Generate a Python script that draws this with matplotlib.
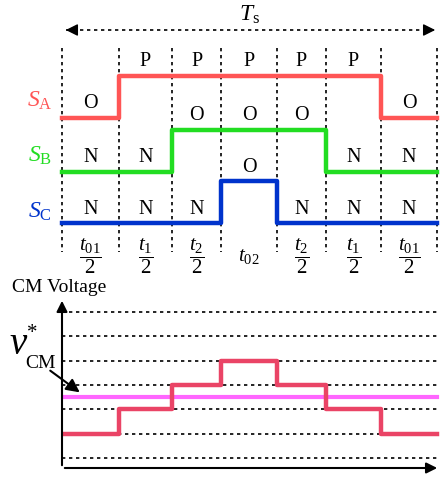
import matplotlib
matplotlib.use("Agg")
import matplotlib.pyplot as plt
import numpy as np

plt.rcParams['font.family'] = ['Liberation Serif', 'DejaVu Serif']
plt.rcParams['mathtext.fontset'] = 'custom'
plt.rcParams['mathtext.rm'] = 'Liberation Serif'
plt.rcParams['mathtext.it'] = 'Liberation Serif:italic'

# --- data ---
# segment durations over one switching period Ts (arbitrary time units)
durations = [57, 53, 49, 56, 49, 55, 56]
seg_labels = [r'$\dfrac{t_{01}}{2}$', r'$\dfrac{t_1}{2}$', r'$\dfrac{t_2}{2}$', r'$t_{02}$',
              r'$\dfrac{t_2}{2}$', r'$\dfrac{t_1}{2}$', r'$\dfrac{t_{01}}{2}$']
state_a = ['O', 'P', 'P', 'P', 'P', 'P', 'O']
state_b = ['N', 'N', 'O', 'O', 'O', 'N', 'N']
state_c = ['N', 'N', 'N', 'O', 'N', 'N', 'N']
cm_voltage = [2, 3, 4, 5, 4, 3, 2]
cm_reference = 3.5
grid_levels = [1, 2, 3, 4, 5, 6, 7]

level_of = {'N': 0, 'O': 1, 'P': 2}
edges = np.concatenate([[0], np.cumsum(durations)])
centers = (edges[:-1] + edges[1:]) / 2
t_end = edges[-1]

W, H = 440, 480
fig = plt.figure(figsize=(W / 100, H / 100), dpi=100)

# --- top: switching states (y in pixel units) ---
ax1 = fig.add_axes([62 / W, 1 - 275 / H, 378 / W, 275 / H])
ax1.set_xlim(0, 378)
ax1.set_ylim(275, 0)
ax1.axis('off')

for e in edges:
    ax1.plot([e, e], [48, 252], color='black', lw=1.2, ls=(0, (2, 2.2)), clip_on=False)

# Ts arrow
ax1.plot([4, t_end - 3], [30, 30], color='black', lw=1.2, ls=(0, (2, 2.2)))
ax1.annotate('', xy=(1, 30), xytext=(12, 30),
             arrowprops=dict(arrowstyle='-|>', color='black', mutation_scale=18, lw=1), annotation_clip=False)
ax1.annotate('', xy=(t_end + 1, 30), xytext=(t_end - 10, 30),
             arrowprops=dict(arrowstyle='-|>', color='black', mutation_scale=18, lw=1), annotation_clip=False)
ax1.text(t_end / 2, 15, r'$T_\mathrm{s}$', ha='center', va='center', fontsize=17)

signals = [(state_a, 160, '#ff5555', 'A', 101),
           (state_b, 172, '#22dd22', 'B', 156),
           (state_c, 223, '#0033cc', 'C', 212)]
for states, base, color, name, label_y in signals:
    ys = [base - 42 * level_of[s] for s in states]
    ax1.step(edges, ys + [ys[-1]], where='post', color=color, lw=3.2, clip_on=False)
    for xc, s, y in zip(centers, states, ys):
        ax1.text(xc, y - 14, s, ha='center', va='center', fontsize=14.5)
    ax1.text(-22, label_y, r'$S_\mathrm{%s}$' % name, ha='center', va='center',
             fontsize=17, color=color)

for xc, lab in zip(centers, seg_labels):
    ax1.text(xc, 256, lab, ha='center', va='center', fontsize=15)

# --- bottom: common-mode voltage ---
ax2 = fig.add_axes([62 / W, 1 - 468 / H, 378 / W, (468 - 298) / H])
ax2.set_xlim(0, 378)
ax2.set_ylim(0.59, 7.58)
ax2.axis('off')

ax2.hlines(grid_levels, 0, 378, colors='black', lw=1.2, linestyles=[(0, (2, 2.2))])
ax2.axhline(cm_reference, xmin=0, xmax=t_end / 378, color='#ff66ff', lw=3)
ax2.step(edges, cm_voltage + [cm_voltage[-1]], where='post', color='#ea4466', lw=3.2)

ax2.annotate('', xy=(0, 1), xytext=(0, 0), xycoords='axes fraction',
             arrowprops=dict(arrowstyle='-|>', color='black', lw=1.5, mutation_scale=16))
ax2.annotate('', xy=(1, 0), xytext=(0, 0), xycoords='axes fraction',
             arrowprops=dict(arrowstyle='-|>', color='black', lw=1.5, mutation_scale=16))

fig.text(12 / W, 1 - 288 / H, 'CM Voltage', ha='left', va='center', fontsize=14)
fig.text(18 / W, 1 - 345 / H, 'v', ha='center', va='center', fontsize=28, style='italic')
fig.text(32 / W, 1 - 333 / H, '*', ha='center', va='center', fontsize=15)
fig.text(40 / W, 1 - 363 / H, 'CM', ha='center', va='center', fontsize=14)
fig.add_artist(matplotlib.patches.FancyArrowPatch(
    (48 / W, 1 - 369 / H), (82 / W, 1 - 394 / H), transform=fig.transFigure,
    arrowstyle='-|>', mutation_scale=20, color='black', lw=1.5))

fig.savefig('out.png', dpi=100)
